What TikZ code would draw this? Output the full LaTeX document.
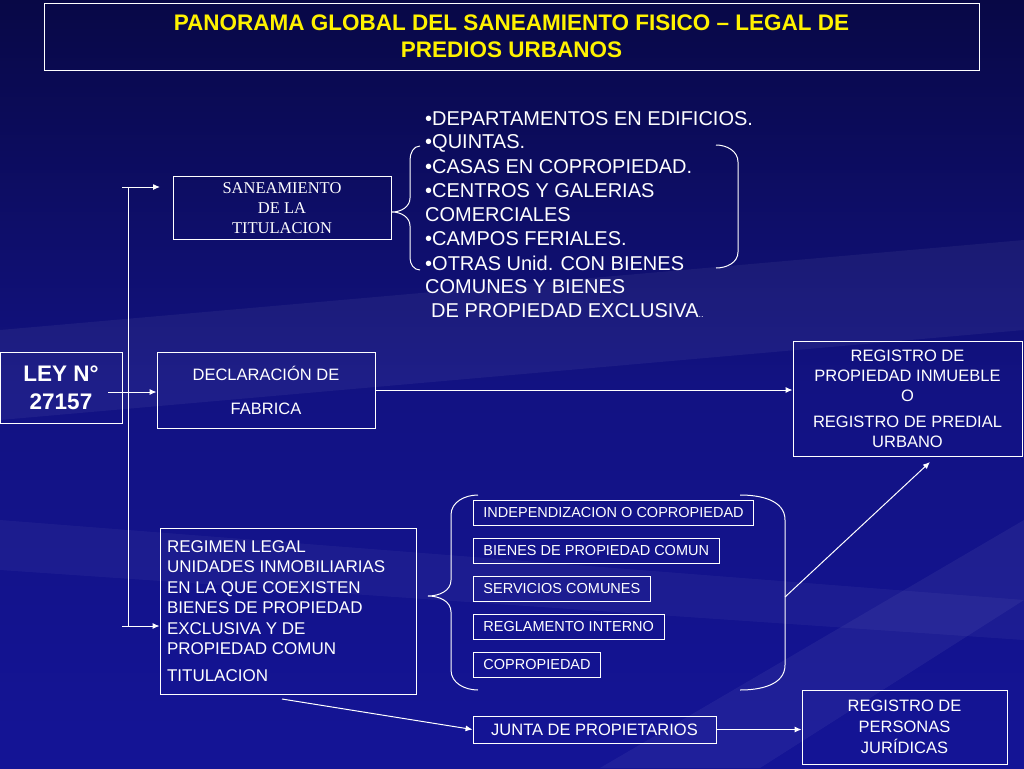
\documentclass[tikz,border=0pt]{standalone}
\usepackage{fontspec}
\setmainfont{Liberation Sans}
\newfontfamily\tms{Liberation Serif}
\begin{document}
\begin{tikzpicture}[x=1pt,y=-1pt,
  box/.style={draw=white,line width=0.9pt,inner sep=0pt,text=white,align=center},
  ln/.style={draw=white,line width=1pt},
  arr/.style={ln,-{Latex[length=7pt,width=6pt]}},
  lst/.style={text=white,anchor=west,inner sep=0pt,font=\fontsize{20}{24}\selectfont}]
\usetikzlibrary{arrows.meta}
\shade[top color={rgb,255:red,8;green,8;blue,70},bottom color={rgb,255:red,20;green,20;blue,150},middle color={rgb,255:red,18;green,18;blue,130}] (0,0) rectangle (1024,768);
\fill[white,opacity=0.05] (0,330) -- (1024,240) -- (1024,330) -- (0,420) -- cycle;
\fill[white,opacity=0.05] (600,768) -- (1024,520) -- (1024,600) -- (760,768) -- cycle;
\fill[white,opacity=0.04] (0,520) -- (1024,600) -- (1024,640) -- (0,570) -- cycle;
\useasboundingbox (0,0) rectangle (1024,768);
% title
\node[box,text=yellow,minimum width=935,minimum height=67,font=\bfseries\fontsize{22.5}{27}\selectfont] (title) at (511.5,36.5) {PANORAMA GLOBAL DEL SANEAMIENTO FISICO -- LEGAL DE\\PREDIOS URBANOS};
% ley
\node[box,minimum width=122,minimum height=71,font=\bfseries\fontsize{22.5}{28}\selectfont] (ley) at (61,387.5) {LEY N°\\27157};
\coordinate (vt) at (128,187); \coordinate (vb) at (128,627);
\draw[ln] (vt) -- (vb);
% boxes
\node[box,minimum width=218,minimum height=63,font=\tms\fontsize{16.5}{20}\selectfont] (san) at (282,208) {SANEAMIENTO\\DE LA\\TITULACION};
\node[box,minimum width=218,minimum height=76,font=\fontsize{16.5}{22}\selectfont] (dec) at (266,390) {DECLARACIÓN DE\\[12pt]FABRICA};
\node[box,minimum width=229,minimum height=115,font=\fontsize{16.5}{20}\selectfont] (reg) at (907.5,398.5) {REGISTRO DE\\PROPIEDAD  INMUEBLE\\O\\[6pt]REGISTRO DE PREDIAL\\URBANO};
\node[box,minimum width=256,minimum height=166,align=left,font=\fontsize{17}{20.5}\selectfont] (rgm) at (288,611) {\parbox{242pt}{REGIMEN LEGAL\\UNIDADES INMOBILIARIAS\\EN LA QUE COEXISTEN\\BIENES DE PROPIEDAD\\EXCLUSIVA Y DE\\PROPIEDAD COMUN\\[6pt]TITULACION}};
\node[box,minimum width=205,minimum height=74,font=\fontsize{16.5}{21}\selectfont] (pj) at (904.5,727) {REGISTRO DE\\PERSONAS\\JURÍDICAS};
\node[box,minimum width=243,minimum height=27,font=\fontsize{16.5}{18}\selectfont] (jun) at (594.5,729.5) {JUNTA  DE PROPIETARIOS};
\tikzset{sb/.style={box,anchor=west,minimum height=25,inner xsep=10pt,font=\fontsize{14.5}{16}\selectfont}}
\node[sb] (s1) at (473,512.5) {INDEPENDIZACION O COPROPIEDAD};
\node[sb] (s2) at (473,550.5) {BIENES DE PROPIEDAD COMUN};
\node[sb] (s3) at (473,588.5) {SERVICIOS COMUNES};
\node[sb] (s4) at (473,626.5) {REGLAMENTO INTERNO};
\node[sb] (s5) at (473,664.5) {COPROPIEDAD};
% list
\node[lst] (l1) at (425,119) {•DEPARTAMENTOS EN EDIFICIOS.};
\node[lst] (l2) at (425,143) {•QUINTAS.};
\node[lst] (l3) at (425,167) {•CASAS EN COPROPIEDAD.};
\node[lst] (l4) at (425,191) {•CENTROS Y GALERIAS};
\node[lst] (l5) at (425,215) {COMERCIALES};
\node[lst] (l6) at (425,239) {•CAMPOS FERIALES.};
\node[lst] (l7) at (425,263) {•OTRAS Unid. CON BIENES};
\node[lst] (l8) at (425,287) {COMUNES Y BIENES};
\node[lst] (l9) at (431,311) {DE PROPIEDAD EXCLUSIVA{\fontsize{9}{9}\selectfont..}};
% braces
\draw[ln] (420,146) to[out=180,in=90] (410,160) -- (410,198) to[out=-90,in=0] (392,212) to[out=0,in=90] (410,226) -- (410,258) to[out=-90,in=180] (420,270);
\draw[ln] (716,145) to[out=0,in=90] (738,162) -- (738,252) to[out=-90,in=0] (716,268);
\draw[ln] (478,495) to[out=180,in=90] (451,515) -- (451,580) to[out=-90,in=0] (428,596) to[out=0,in=90] (451,612) -- (451,670) to[out=-90,in=180] (478,690);
\draw[ln] (740,495) to[out=0,in=90] (785,520) -- (785,665) to[out=-90,in=0] (740,690);
% arrows
\coordinate (a1) at (122,187); \coordinate (a1e) at (160,187);
\draw[arr] (a1) -- (a1e);
\coordinate (a2) at (108,392);
\draw[arr] (a2) -- (dec.west|-a2);
\coordinate (a3) at (122,626);
\draw[arr] (a3) -- (rgm.west|-a3);
\draw[arr] (dec.east) -- (reg.west|-dec.east);
\coordinate (bk) at (785,597);
\coordinate (bke) at (930,462);
\draw[arr] (bk) -- (bke);
\coordinate (rf) at (282,699);
\draw[arr] (rf) -- (jun.west);
\draw[arr] (jun.east) -- (pj.west|-jun.east);
\end{tikzpicture}
\end{document}
